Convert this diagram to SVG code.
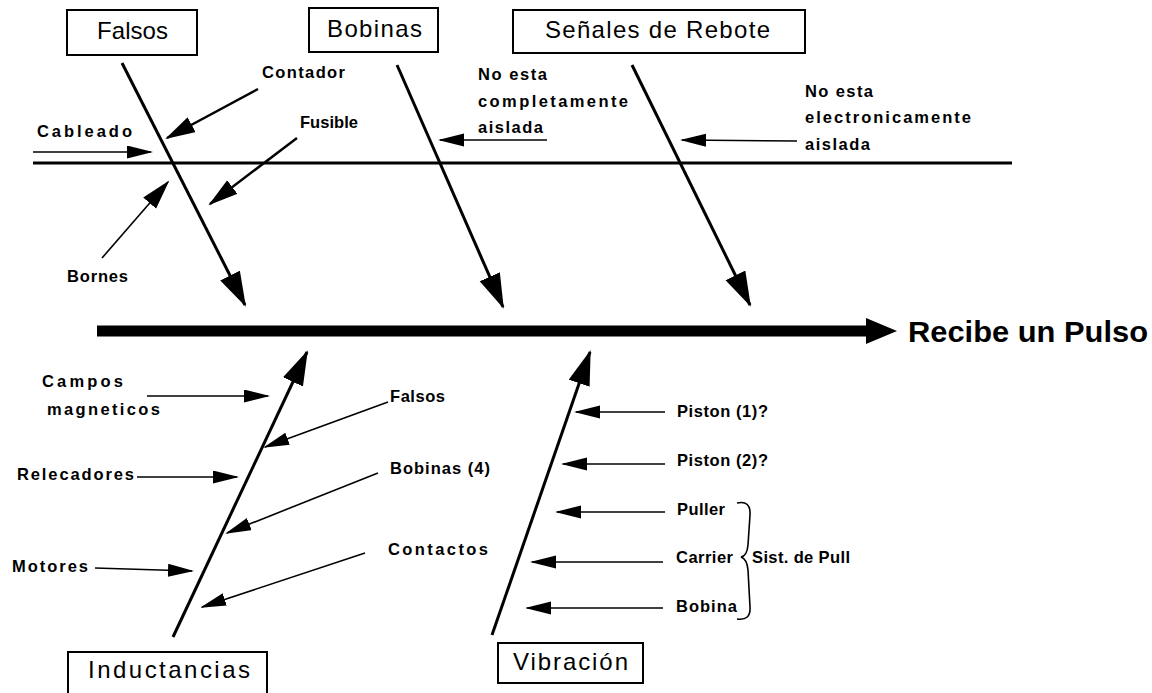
<svg xmlns="http://www.w3.org/2000/svg" width="1152" height="693" viewBox="0 0 1152 693">
  <style>
    .box { fill: #fff; stroke: #000; stroke-width: 2; }
    .cat { font-family: "Liberation Sans", Arial, sans-serif; font-size: 24px; fill: #000; }
    .lbl { font-family: "Liberation Sans", Arial, sans-serif; font-size: 16.5px; font-weight: bold; fill: #000; }
    .head { font-family: "Liberation Sans", Arial, sans-serif; font-size: 30px; font-weight: bold; fill: #000; }
    .bone { fill: none; stroke: #000; stroke-width: 3; }
    .twig { fill: none; stroke: #000; stroke-width: 1.6; }
    .twig2 { fill: none; stroke: #000; stroke-width: 2.4; }
  </style>
  <defs>
    <marker id="bigHead" markerUnits="userSpaceOnUse" markerWidth="36" markerHeight="24" refX="33" refY="11" orient="auto">
      <path d="M0,0 L35,11 L0,22 z" fill="#000"/>
    </marker>
    <marker id="midHead" markerUnits="userSpaceOnUse" markerWidth="32" markerHeight="18" refX="28" refY="8.5" orient="auto">
      <path d="M0,0 L30,8.5 L0,17 z" fill="#000"/>
    </marker>
    <marker id="smallHead" markerUnits="userSpaceOnUse" markerWidth="28" markerHeight="14" refX="24" refY="6.5" orient="auto">
      <path d="M0,0 L26,6.5 L0,13 z" fill="#000"/>
    </marker>
  </defs>
  <rect width="1152" height="693" fill="#fff"/>

  <g id="connectors">
    <!-- upper guide line and main spine -->
    <line x1="33" y1="163" x2="1012" y2="163" class="bone"/>
    <line x1="97" y1="331" x2="870" y2="331" stroke="#000" stroke-width="11"/>
    <polygon points="866,318 897,331 866,344" fill="#000"/>

    <!-- category bones -->
    <line x1="122" y1="63" x2="245" y2="305" class="bone" marker-end="url(#bigHead)"/>
    <line x1="397" y1="65" x2="503" y2="307" class="bone" marker-end="url(#bigHead)"/>
    <line x1="632" y1="65" x2="750" y2="305" class="bone" marker-end="url(#bigHead)"/>
    <line x1="173" y1="637" x2="307" y2="352" class="bone" marker-end="url(#bigHead)"/>
    <line x1="492" y1="635" x2="590" y2="352" class="bone" marker-end="url(#bigHead)"/>

    <!-- causes: Falsos -->
    <line x1="33" y1="152" x2="151" y2="152" class="twig" marker-end="url(#smallHead)"/>
    <line x1="258" y1="89" x2="167" y2="138" class="twig2" marker-end="url(#midHead)"/>
    <line x1="297" y1="138" x2="210" y2="204" class="twig2" marker-end="url(#midHead)"/>
    <line x1="102" y1="258" x2="168" y2="182" class="twig" marker-end="url(#midHead)"/>

    <!-- causes: Bobinas / Señales -->
    <line x1="547" y1="140" x2="440" y2="140" class="twig" marker-end="url(#smallHead)"/>
    <line x1="797" y1="141" x2="682" y2="140" class="twig" marker-end="url(#smallHead)"/>

    <!-- causes: Inductancias -->
    <line x1="147" y1="396" x2="268" y2="396" class="twig" marker-end="url(#smallHead)"/>
    <line x1="388" y1="402" x2="265" y2="447" class="twig" marker-end="url(#smallHead)"/>
    <line x1="137" y1="477" x2="237" y2="477" class="twig" marker-end="url(#smallHead)"/>
    <line x1="378" y1="473" x2="227" y2="533" class="twig" marker-end="url(#smallHead)"/>
    <line x1="95" y1="568" x2="192" y2="571" class="twig" marker-end="url(#smallHead)"/>
    <line x1="365" y1="553" x2="202" y2="607" class="twig" marker-end="url(#smallHead)"/>

    <!-- causes: Vibración -->
    <line x1="665" y1="412" x2="576" y2="412" class="twig" marker-end="url(#smallHead)"/>
    <line x1="665" y1="464" x2="563" y2="464" class="twig" marker-end="url(#smallHead)"/>
    <line x1="665" y1="512" x2="557" y2="512" class="twig" marker-end="url(#smallHead)"/>
    <line x1="663" y1="562" x2="532" y2="562" class="twig" marker-end="url(#smallHead)"/>
    <line x1="663" y1="608" x2="527" y2="608" class="twig" marker-end="url(#smallHead)"/>

    <!-- brace grouping the pull system -->
    <path d="M737,503 Q751,500 750,515 L748,545 Q747,556 741,557 Q747,559 748,570 L750,607 Q751,621 737,619" class="twig"/>
  </g>

  <g id="cat-falsos">
    <rect x="67" y="10" width="130" height="45" class="box"/>
    <text x="97" y="39" class="cat" textLength="71" lengthAdjust="spacing">Falsos</text>
  </g>
  <g id="cat-bobinas">
    <rect x="309" y="8" width="129" height="44" class="box"/>
    <text x="327" y="37" class="cat" textLength="95" lengthAdjust="spacing">Bobinas</text>
  </g>
  <g id="cat-senales">
    <rect x="513" y="10" width="292" height="43" class="box"/>
    <text x="545" y="38" class="cat" textLength="225" lengthAdjust="spacing">Señales de Rebote</text>
  </g>
  <g id="cat-inductancias">
    <rect x="68" y="652" width="199" height="48" class="box"/>
    <text x="88" y="678" class="cat" textLength="162" lengthAdjust="spacing">Inductancias</text>
  </g>
  <g id="cat-vibracion">
    <rect x="498" y="643" width="145" height="40" class="box"/>
    <text x="513" y="670" class="cat" textLength="115" lengthAdjust="spacing">Vibración</text>
  </g>
  <g id="effect">
    <text x="908" y="342" class="head" textLength="240" lengthAdjust="spacingAndGlyphs">Recibe un Pulso</text>
  </g>

  <g id="cause-contador"><text x="262" y="78" class="lbl" textLength="83" lengthAdjust="spacing">Contador</text></g>
  <g id="cause-cableado"><text x="37" y="137" class="lbl" textLength="95" lengthAdjust="spacing">Cableado</text></g>
  <g id="cause-fusible"><text x="300" y="128" class="lbl" textLength="58" lengthAdjust="spacing">Fusible</text></g>
  <g id="cause-bornes"><text x="67" y="282" class="lbl" textLength="61" lengthAdjust="spacing">Bornes</text></g>
  <g id="cause-no-aislada">
    <text x="478" y="80" class="lbl" textLength="69" lengthAdjust="spacing">No esta</text>
    <text x="478" y="107" class="lbl" textLength="150" lengthAdjust="spacing">completamente</text>
    <text x="478" y="133" class="lbl" textLength="65" lengthAdjust="spacing">aislada</text>
  </g>
  <g id="cause-no-electr">
    <text x="805" y="97" class="lbl" textLength="68" lengthAdjust="spacing">No esta</text>
    <text x="805" y="123" class="lbl" textLength="166" lengthAdjust="spacing">electronicamente</text>
    <text x="805" y="150" class="lbl" textLength="65" lengthAdjust="spacing">aislada</text>
  </g>

  <g id="cause-campos">
    <text x="42" y="387" class="lbl" textLength="81" lengthAdjust="spacing">Campos</text>
    <text x="47" y="415" class="lbl" textLength="113" lengthAdjust="spacing">magneticos</text>
  </g>
  <g id="cause-falsos2"><text x="390" y="402" class="lbl" textLength="55" lengthAdjust="spacing">Falsos</text></g>
  <g id="cause-relecadores"><text x="17" y="480" class="lbl" textLength="117" lengthAdjust="spacing">Relecadores</text></g>
  <g id="cause-bobinas4"><text x="390" y="474" class="lbl" textLength="100" lengthAdjust="spacing">Bobinas (4)</text></g>
  <g id="cause-motores"><text x="12" y="572" class="lbl" textLength="76" lengthAdjust="spacing">Motores</text></g>
  <g id="cause-contactos"><text x="388" y="555" class="lbl" textLength="100" lengthAdjust="spacing">Contactos</text></g>

  <g id="cause-piston1"><text x="677" y="417" class="lbl" textLength="91" lengthAdjust="spacing">Piston (1)?</text></g>
  <g id="cause-piston2"><text x="677" y="466" class="lbl" textLength="91" lengthAdjust="spacing">Piston (2)?</text></g>
  <g id="cause-puller"><text x="677" y="515" class="lbl" textLength="48" lengthAdjust="spacing">Puller</text></g>
  <g id="cause-carrier"><text x="676" y="563" class="lbl" textLength="57" lengthAdjust="spacing">Carrier</text></g>
  <g id="cause-bobina"><text x="676" y="612" class="lbl" textLength="61" lengthAdjust="spacing">Bobina</text></g>
  <g id="group-pull"><text x="752" y="563" class="lbl" textLength="98" lengthAdjust="spacing">Sist. de Pull</text></g>
</svg>
